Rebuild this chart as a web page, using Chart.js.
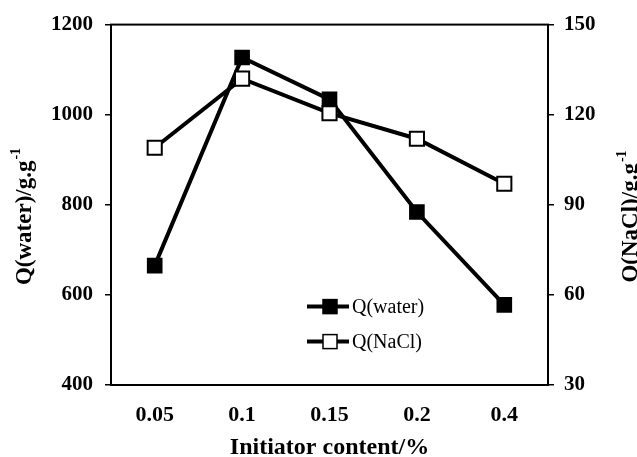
<!DOCTYPE html>
<html>
<head>
<meta charset="utf-8">
<script src="https://cdn.jsdelivr.net/npm/chart.js@4"></script>
<style>
  html, body { margin: 0; padding: 0; background: #fff; }
  #wrap { width: 637px; height: 457px; }
</style>
</head>
<body>
<div id="wrap"><canvas id="chart" width="637" height="457"></canvas></div>
<script>
// initiator content (%)
const categories = ['0.05', '0.1', '0.15', '0.2', '0.4'];
const waterValues = [665, 1127, 1034, 784, 578];   // left axis
const naclValues = [109, 132, 120.5, 112, 97];     // right axis

const leftTicks = [400, 600, 800, 1000, 1200];
const rightTicks = [30, 60, 90, 120, 150];

const serif = "'Liberation Serif', 'Times New Roman', serif";

// box around the plot, legend inside it, rotated titles with superscript
const extras = {
	id: 'extras',
	afterDraw(chart) {
		const ctx = chart.ctx;
		const a = chart.chartArea;
		ctx.save();
		ctx.strokeStyle = '#000';
		ctx.lineWidth = 2;
		ctx.strokeRect(a.left, a.top, a.right - a.left, a.bottom - a.top);

		// legend
		const items = [
			{ text: 'Q(water)', fill: '#000', y: a.top + 282 },
			{ text: 'Q(NaCl)', fill: '#fff', y: a.top + 317 },
		];
		const lx = a.left + 196;
		items.forEach(function(it) {
			ctx.lineWidth = 4;
			ctx.beginPath();
			ctx.moveTo(lx, it.y);
			ctx.lineTo(lx + 42, it.y);
			ctx.stroke();
			ctx.fillStyle = it.fill;
			ctx.fillRect(lx + 16, it.y - 7, 14, 14);
			ctx.lineWidth = 1.5;
			ctx.strokeRect(lx + 16, it.y - 7, 14, 14);
			ctx.fillStyle = '#000';
			ctx.font = '20px ' + serif;
			ctx.textAlign = 'left';
			ctx.textBaseline = 'middle';
			ctx.fillText(it.text, lx + 45, it.y + 1);
		});

		// y titles
		function vtitle(main, cx, cy) {
			ctx.save();
			ctx.translate(cx, cy);
			ctx.rotate(-Math.PI / 2);
			ctx.font = 'bold 23px ' + serif;
			const w1 = ctx.measureText(main).width;
			ctx.font = 'bold 14px ' + serif;
			const w2 = ctx.measureText('-1').width;
			const x0 = -(w1 + w2) / 2;
			ctx.textAlign = 'left';
			ctx.textBaseline = 'middle';
			ctx.fillStyle = '#000';
			ctx.font = 'bold 23px ' + serif;
			ctx.fillText(main, x0, 0);
			ctx.font = 'bold 14px ' + serif;
			ctx.fillText('-1', x0 + w1 + 1, -9);
			ctx.restore();
		}
		vtitle('Q(water)/g.g', 25, 217);
		vtitle('Q(NaCl)/g.g', 631, 217);
		ctx.restore();
	}
};

const ctx = document.getElementById('chart').getContext('2d');
const chart = new Chart(ctx, {
	type: 'line',
	data: {
		labels: categories,
		datasets: [
			{
				label: 'Q(water)',
				data: waterValues,
				yAxisID: 'y',
				borderColor: '#000',
				borderWidth: 4,
				backgroundColor: '#000',
				pointStyle: 'rect',
				pointRadius: 10,
				pointBorderWidth: 1.5,
				pointBorderColor: '#000',
				pointBackgroundColor: '#000',
				order: 1,
			},
			{
				label: 'Q(NaCl)',
				data: naclValues,
				yAxisID: 'y2',
				borderColor: '#000',
				borderWidth: 4,
				backgroundColor: '#fff',
				pointStyle: 'rect',
				pointRadius: 10,
				pointBorderWidth: 2,
				pointBorderColor: '#000',
				pointBackgroundColor: '#fff',
				order: 0,
			},
		],
	},
	options: {
		responsive: false,
		animation: false,
		layout: { padding: { top: 19, left: 0, right: 0, bottom: 0 } },
		plugins: {
			legend: { display: false },
			tooltip: { enabled: false },
		},
		scales: {
			x: {
				offset: true,
				grid: { display: false, offset: true },
				border: { display: true, color: '#000', width: 2 },
				ticks: {
					color: '#000',
					font: { family: serif, size: 22, weight: 'bold' },
					padding: 9,
				},
				title: {
					display: true,
					text: 'Initiator content/%',
					color: '#000',
					font: { family: serif, size: 24, weight: 'bold' },
					padding: { top: 4, bottom: -5 },
				},
				afterFit(s) { s.height = 72; },
			},
			y: {
				position: 'left',
				min: 400, max: 1200,
				grid: { drawOnChartArea: false, tickLength: 6, color: '#000', lineWidth: 1.5 },
				border: { display: true, color: '#000', width: 2 },
				ticks: {
					stepSize: 200,
					color: '#000',
					padding: 12,
					font: { family: serif, size: 21, weight: 'bold' },
					callback: function(v) { return leftTicks.includes(v) ? v : ''; },
				},
				afterFit(s) { s.width = 111; },
			},
			y2: {
				position: 'right',
				min: 30, max: 150,
				grid: { drawOnChartArea: false, tickLength: 6, color: '#000', lineWidth: 1.5 },
				border: { display: true, color: '#000', width: 2 },
				ticks: {
					stepSize: 30,
					color: '#000',
					padding: 10,
					font: { family: serif, size: 21, weight: 'bold' },
					callback: function(v) { return rightTicks.includes(v) ? v : ''; },
				},
				afterFit(s) { s.width = 89; },
			},
		},
	},
	plugins: [extras],
});
</script>
</body>
</html>
